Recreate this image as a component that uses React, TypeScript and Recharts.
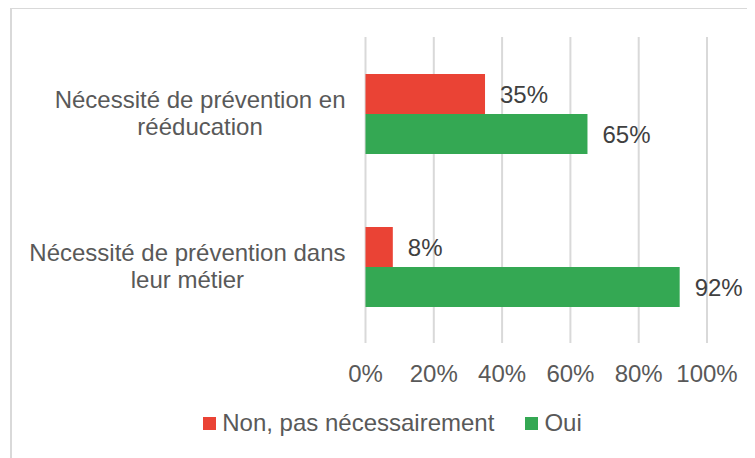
import React from "react";
import {
  BarChart,
  Bar,
  XAxis,
  YAxis,
  CartesianGrid,
  Legend,
  LabelList,
} from "recharts";

const categories = [
  "Nécessité de prévention en rééducation",
  "Nécessité de prévention dans leur métier",
];
const categoryLines = [
  ["Nécessité de prévention en", "rééducation"],
  ["Nécessité de prévention dans", "leur métier"],
];
const nonValues = [35, 8];
const ouiValues = [65, 92];
const xTicks = [0, 20, 40, 60, 80, 100];

const SERIES = [
  { key: "non", name: "Non, pas nécessairement", color: "#EA4335" },
  { key: "oui", name: "Oui", color: "#34A853" },
];

const FONT = '"Liberation Sans", Arial, sans-serif';
const FS = 24;
const AXIS_COLOR = "#595959";

const data = categories.map((name, i) => ({
  name,
  non: nonValues[i],
  oui: ouiValues[i],
}));

let ctx: CanvasRenderingContext2D | null = null;
function textWidth(s: string) {
  if (!ctx) ctx = document.createElement("canvas").getContext("2d");
  if (!ctx) return s.length * FS * 0.5;
  ctx.font = `${FS}px ${FONT}`;
  return ctx.measureText(s).width;
}

function CategoryTick(props: any) {
  const { x, y, payload } = props;
  const idx = categories.indexOf(payload.value);
  const lines = idx >= 0 ? categoryLines[idx] : [String(payload.value)];
  const blockW = Math.max(...lines.map(textWidth));
  const cx = x - 20 - blockW / 2;
  const lh = 27;
  const top = y - ((lines.length - 1) * lh) / 2;
  return (
    <text
      textAnchor="middle"
      fill={AXIS_COLOR}
      fontSize={FS}
      fontFamily={FONT}
    >
      {lines.map((l, i) => (
        <tspan key={i} x={cx} y={top + i * lh} dy="0.35em">
          {l}
        </tspan>
      ))}
    </text>
  );
}

function LegendContent() {
  return (
    <div
      style={{
        display: "flex",
        justifyContent: "center",
        alignItems: "center",
        height: 30,
        transform: "translateX(33px)",
        fontFamily: FONT,
        fontSize: FS,
        color: AXIS_COLOR,
      }}
    >
      {SERIES.map((s, i) => (
        <div
          key={s.key}
          style={{ display: "flex", alignItems: "center", marginLeft: i ? 31 : 0 }}
        >
          <span
            style={{ width: 13, height: 13, background: s.color, marginRight: 6 }}
          />
          <span>{s.name}</span>
        </div>
      ))}
    </div>
  );
}

export default function App() {
  return (
    <div
      style={{
        marginLeft: 2,
        marginTop: -1,
        width: 743,
        height: 449,
        borderTop: "2px solid #d9d9d9",
        borderLeft: "2px solid #d9d9d9",
        background: "#fff",
      }}
    >
      <BarChart
        width={743}
        height={449}
        data={data}
        layout="vertical"
        margin={{ top: 28, right: 48, left: 0, bottom: 20 }}
        barSize={40}
        barGap={0}
      >
        <CartesianGrid
          horizontal={false}
          stroke="#d9d9d9"
          strokeWidth={2}
        />
        <XAxis
          type="number"
          domain={[0, 100]}
          ticks={xTicks}
          tickFormatter={(v: number) => `${v}%`}
          axisLine={false}
          tickLine={false}
          tickSize={0}
          tickMargin={22}
          height={65}
          interval={0}
          tick={{ fontSize: FS, fill: AXIS_COLOR, fontFamily: FONT }}
        />
        <YAxis
          type="category"
          dataKey="name"
          width={353.5}
          axisLine={false}
          tickLine={false}
          tickSize={0}
          tickMargin={0}
          tick={<CategoryTick />}
        />
        <Legend verticalAlign="bottom" content={<LegendContent />} />
        {SERIES.map((s) => (
          <Bar
            key={s.key}
            dataKey={s.key}
            name={s.name}
            fill={s.color}
            isAnimationActive={false}
          >
            <LabelList
              dataKey={s.key}
              position="right"
              offset={15}
              formatter={(v: any) => `${v}%`}
              fill="#404040"
              fontSize={FS}
              fontFamily={FONT}
            />
          </Bar>
        ))}
      </BarChart>
    </div>
  );
}
